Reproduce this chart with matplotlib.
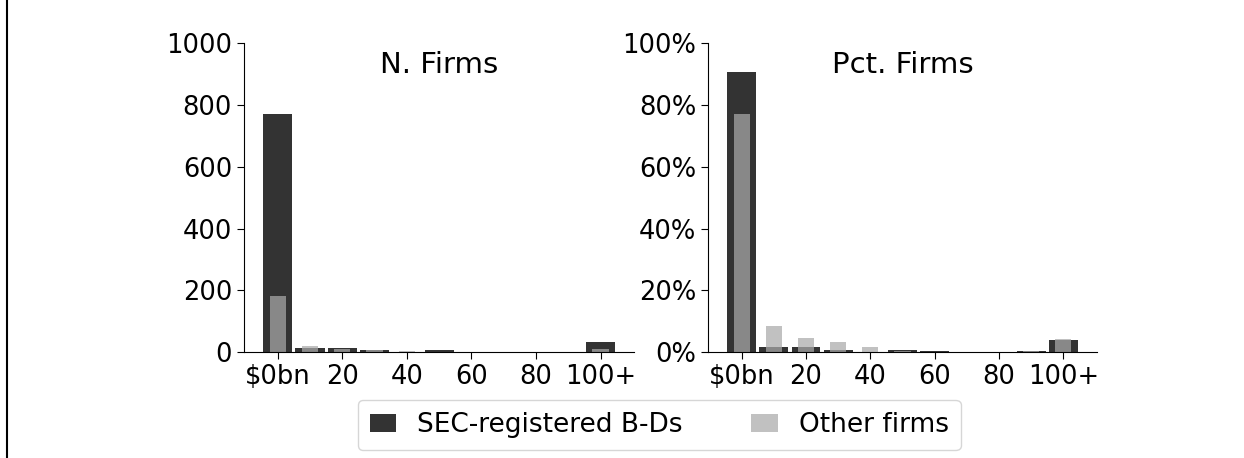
import numpy as np
import matplotlib.pyplot as plt
from matplotlib.lines import Line2D
from matplotlib.ticker import PercentFormatter

# size bins ($bn), last bin is 100+
bins = [0, 10, 20, 30, 40, 50, 60, 70, 80, 90, 100]
tick_vals = [0, 20, 40, 60, 80, 100]
tick_labels = ["$0bn", "20", "40", "60", "80", "100+"]

# number of firms per bin
sec_bd = np.array([770, 13, 13, 6, 1, 6, 2, 1, 1, 2, 34])
other = np.array([183, 20, 11, 8, 4, 1, 0, 0, 0, 1, 10])

sec_pct = sec_bd / sec_bd.sum()
other_pct = other / other.sum()

dark = "#333333"
light = "#aaaaaa"

fig = plt.figure(figsize=(12.44, 4.58), dpi=100)
ax1 = fig.add_axes([0.196, 0.231, 0.314, 0.675])
ax2 = fig.add_axes([0.569, 0.231, 0.313, 0.675])

panels = [
    (ax1, sec_bd, other, "N. Firms"),
    (ax2, sec_pct, other_pct, "Pct. Firms"),
]
for ax, a, b, title in panels:
    ax.bar(bins, a, width=9, color=dark, label="SEC-registered B-Ds")
    ax.bar(bins, b, width=5, color=light, alpha=0.72, label="Other firms")
    ax.set_xlim(-10.5, 110.5)
    ax.set_xticks(tick_vals)
    ax.set_xticklabels(tick_labels)
    ax.spines["top"].set_visible(False)
    ax.spines["right"].set_visible(False)
    ax.tick_params(labelsize=18.5, length=5)
    ax.text(0.5, 0.903, title, transform=ax.transAxes, ha="center", va="baseline", fontsize=21)

ax1.set_ylim(0, 1000)
ax1.set_yticks([0, 200, 400, 600, 800, 1000])
ax2.set_ylim(0, 1)
ax2.set_yticks([0, 0.2, 0.4, 0.6, 0.8, 1.0])
ax2.yaxis.set_major_formatter(PercentFormatter(1.0, decimals=0))

handles, labels = ax1.get_legend_handles_labels()
fig.legend(handles, labels, loc="center", bbox_to_anchor=(0.530, 0.072), ncol=2,
           fontsize=19, frameon=True, edgecolor="#cccccc", handlelength=1.0,
           handleheight=0.65, handletextpad=0.8, columnspacing=2.6, borderpad=0.45)

# left border line from the source image
fig.add_artist(Line2D([7.5 / 1244, 7.5 / 1244], [0, 1], color="black", lw=1.5))

fig.savefig("out.png", dpi=100)
